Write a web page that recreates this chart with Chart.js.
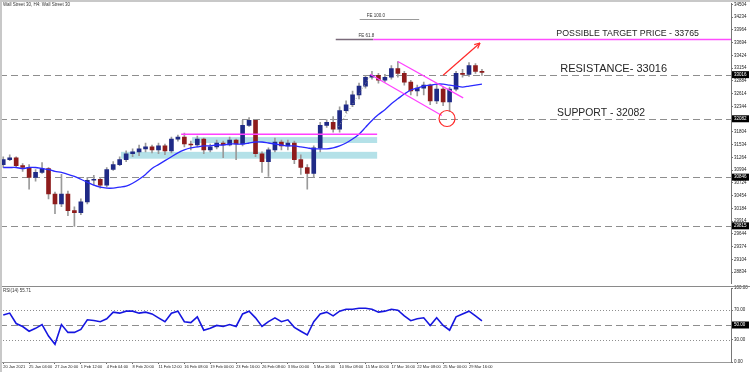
<!DOCTYPE html>
<html><head><meta charset="utf-8">
<script src="https://cdn.jsdelivr.net/npm/chart.js@4"></script>
<style>
html,body{margin:0;padding:0;background:#fff;width:750px;height:372px;overflow:hidden;}
#c1{position:absolute;left:0;top:0;}
#c2{position:absolute;left:0;top:282px;}
#frame{position:absolute;left:0;top:0;width:748px;height:370px;border-left:2px solid #c8c8c8;border-top:2px solid #c8c8c8;pointer-events:none;}
</style></head><body>
<canvas id="c1" width="750" height="287"></canvas>
<canvas id="c2" width="750" height="90"></canvas>
<div id="frame"></div>
<script>
// ---------- data ----------
const chartTitle = 'Wall Street 30, H4: Wall Street 30';
const rsiTitle = 'RSI(14) 55.71';
const xTickLabels = ['20 Jan 2021','25 Jan 04:00','27 Jan 20:00','1 Feb 12:00','4 Feb 04:00','8 Feb 20:00','11 Feb 12:00','16 Feb 08:00','19 Feb 00:00','23 Feb 16:00','26 Feb 08:00','3 Mar 00:00','5 Mar 16:00','10 Mar 08:00','15 Mar 00:00','17 Mar 16:00','22 Mar 08:00','25 Mar 00:00','29 Mar 16:00'];
const candleOpen  = [31112,31216,31257,31091,31050,30842,30946,31029,30489,30281,30489,30136,30094,30323,30780,30801,30676,31008,31112,31216,31341,31382,31444,31486,31424,31507,31403,31652,31694,31548,31527,31652,31424,31486,31569,31527,31631,31548,31943,32047,31341,31174,31424,31590,31507,31569,31216,31050,30925,31465,31943,32005,31860,32254,32379,32587,32774,32961,33002,32898,32961,33147,33044,32857,32670,32732,32794,32462,32711,32441,32711,33044,33023,33210,33085];
const candleHigh  = [31278,31320,31278,31133,31112,31008,31154,31050,30530,30904,30551,30219,30385,30842,30884,30842,31050,31174,31278,31403,31444,31527,31569,31527,31569,31548,31694,31735,31777,31610,31714,31673,31548,31631,31610,31694,31652,32047,32109,32067,31382,31465,31673,31631,31631,31610,31320,31112,31507,32005,32067,32130,32337,32462,32670,32836,33002,33085,33044,33023,33210,33293,33085,32898,32794,32857,32815,32815,32753,32753,33085,33127,33272,33251,33127];
const candleLow   = [31050,31195,31050,30967,30593,30759,30925,30385,30073,30219,30032,29803,30053,30281,30676,30614,30634,30987,31091,31174,31278,31299,31382,31361,31341,31320,31361,31610,31486,31424,31486,31341,31382,31444,31257,31507,31216,31507,31922,31278,30946,30863,31382,31424,31424,31133,30904,30593,30842,31382,31901,31797,31797,32213,32337,32504,32732,32919,32836,32857,32919,32961,32794,32587,32566,32587,32379,32400,32358,32234,32670,32961,32981,33044,33002];
const candleClose = [31216,31257,31091,31050,30842,30946,31029,30489,30281,30489,30136,30094,30323,30780,30801,30676,31008,31112,31216,31341,31382,31444,31486,31424,31507,31403,31652,31694,31548,31527,31652,31424,31486,31569,31527,31631,31548,31943,32047,31341,31174,31424,31590,31507,31569,31216,31050,30925,31465,31943,32005,31860,32254,32379,32587,32774,32961,33002,32898,32961,33147,33044,32857,32670,32732,32794,32462,32711,32441,32711,33044,33023,33210,33085,33064];
const maValues    = [31050,31050,31050,31029,31050,31050,31029,31008,30967,30946,30904,30863,30801,30738,30676,30634,30614,30614,30634,30655,30717,30801,30904,31029,31112,31195,31278,31361,31424,31465,31486,31507,31507,31527,31527,31548,31548,31548,31569,31590,31590,31569,31548,31527,31507,31507,31486,31465,31444,31444,31444,31465,31507,31569,31652,31756,31901,32047,32171,32275,32400,32504,32607,32691,32732,32774,32794,32815,32815,32794,32774,32753,32774,32794,32815];
const rsiValues   = [63.5,66.1,52,48,41.6,45.5,50.6,35,24,50.6,40,40,44,57,56,54.5,58.4,67.4,66,68.7,68.7,66,67.4,65,59.7,54.5,66,68.7,54.5,53.2,61,43,45.5,49.4,48,50.6,48,65,68.7,59.7,48,54.5,59.7,54.5,57,46.8,41.6,36.5,54.5,64.8,67.4,62.3,68.7,71.3,71.3,72.6,72.6,71.3,67.4,68.7,71.3,70,62.3,55.8,58.4,59.7,49.4,59.7,49.4,43,61,64.8,68.7,62.3,55.7];
const priceTicks  = [34504,34234,33964,33694,33424,33154,32884,32614,32344,32074,31804,31534,31264,30994,30724,30454,30184,29914,29644,29374,29104,28834];
const levelPrices = [33016,32082,30846,29815];
const rsiTicks    = [100,70,30,0];
const rsiLevels   = [70,50,30];
const targetPrice = 33765;
const fe100Price  = 34186;
const zoneTopPrice = 31756;
const zones = [ {from:29.2,to:57.8,top:31694,bottom:31569}, {from:18.2,to:57.8,top:31382,bottom:31237} ];
const channelUpper = [[61.0,33293],[71.1,32524]];
const channelLower = [[56.7,33023],[67.8,32150]];
const trendDotted  = [[51.6,31860],[56.7,32981]];
const arrowUp      = [[68.0,33002],[73.7,33687]];
const circleAt     = [68.6,32088];
const textNotes = [
  {text:'POSSIBLE TARGET PRICE - 33765', at:85.5, price:33765},
  {text:'RESISTANCE- 33016', at:86.1, price:33016},
  {text:'SUPPORT - 32082', at:85.6, price:32082}
];
const categoryCount = 113;
const barsPerLabel = 4;

// ---------- helpers ----------
const categories = Array.from({length: categoryCount}, (_, i) => String(i));
const FONT = "'Liberation Sans', Arial, sans-serif";
const RIGHT_W = 19;
const noteFontSizes = [8.8, 11, 10.4];

function seg(ctx, p, q, color, w, dash) {
  ctx.save();
  ctx.strokeStyle = color; ctx.lineWidth = w; ctx.setLineDash(dash || []);
  ctx.beginPath(); ctx.moveTo(p[0], p[1]); ctx.lineTo(q[0], q[1]); ctx.stroke();
  ctx.restore();
}

const pricePlugin = {
  id: 'priceNotes',
  beforeDatasetsDraw(chart) {
    const {ctx, chartArea: a, scales: {x, y}} = chart;
    ctx.save();
    ctx.fillStyle = '#b4e1e8';
    zones.forEach(z => {
      const x0 = x.getPixelForValue(z.from), x1 = x.getPixelForValue(z.to);
      const y0 = y.getPixelForValue(z.top), y1 = y.getPixelForValue(z.bottom);
      ctx.fillRect(x0, y0, x1 - x0, y1 - y0);
    });
    levelPrices.forEach(p => {
      const yy = Math.round(y.getPixelForValue(p)) + 0.5;
      seg(ctx, [a.left, yy], [a.right, yy], '#8e8e8e', 1, [7, 4]);
    });
    ctx.restore();
  },
  afterDatasetsDraw(chart) {
    const {ctx, chartArea: a, scales: {x, y}} = chart;
    const P = (pt) => [x.getPixelForValue(pt[0]), y.getPixelForValue(pt[1])];
    ctx.save();
    const zy = y.getPixelForValue(zoneTopPrice);
    seg(ctx, [x.getPixelForValue(27.5), zy], [x.getPixelForValue(57.8), zy], '#ff40ff', 1.5);
    seg(ctx, P(channelUpper[0]), P(channelUpper[1]), '#ff40ff', 1.2);
    seg(ctx, P(channelLower[0]), P(channelLower[1]), '#ff40ff', 1.2);
    seg(ctx, P(trendDotted[0]), P(trendDotted[1]), '#9a9a9a', 1, [1, 2]);
    const ty = Math.round(y.getPixelForValue(targetPrice)) + 0.5;
    seg(ctx, [x.getPixelForValue(51.4), ty], [x.getPixelForValue(57.2), ty], '#7a6a7a', 1.5);
    seg(ctx, [x.getPixelForValue(57.2), ty], [a.right, ty], '#ff4dff', 1.6);
    const fy = Math.round(y.getPixelForValue(fe100Price)) + 0.5;
    seg(ctx, [x.getPixelForValue(55.1), fy], [x.getPixelForValue(64.3), fy], '#9a9a9a', 1);
    ctx.fillStyle = '#333'; ctx.font = '4.5px ' + FONT; ctx.textBaseline = 'bottom';
    ctx.fillText('FE 61.8', x.getPixelForValue(54.9), ty - 1);
    ctx.fillText('FE 100.0', x.getPixelForValue(56.2), fy - 1);
    const a0 = P(arrowUp[0]), a1 = P(arrowUp[1]);
    seg(ctx, a0, a1, '#ff2a2a', 1.2);
    const ang = Math.atan2(a1[1] - a0[1], a1[0] - a0[0]);
    [0.45, -0.45].forEach(d => {
      seg(ctx, a1, [a1[0] - 6 * Math.cos(ang + d), a1[1] - 6 * Math.sin(ang + d)], '#ff2a2a', 1.2);
    });
    const c = P(circleAt);
    ctx.strokeStyle = '#ff2a2a'; ctx.lineWidth = 1.2; ctx.setLineDash([]);
    ctx.beginPath(); ctx.arc(c[0], c[1], 8, 0, Math.PI * 2); ctx.stroke();
    ctx.fillStyle = '#262626'; ctx.textBaseline = 'alphabetic';
    textNotes.forEach((n, k) => {
      ctx.font = noteFontSizes[k] + 'px ' + FONT;
      ctx.fillText(n.text, x.getPixelForValue(n.at), y.getPixelForValue(n.price) - 3);
    });
    ctx.restore();
  },
  afterDraw(chart) {
    const {ctx, chartArea: a, scales: {y}} = chart;
    ctx.save();
    ctx.font = '4.5px ' + FONT; ctx.textBaseline = 'middle';
    levelPrices.forEach(p => {
      const yy = y.getPixelForValue(p);
      ctx.fillStyle = '#000'; ctx.fillRect(a.right + 1, yy - 3.5, 17, 7);
      ctx.fillStyle = '#fff'; ctx.fillText(String(p), a.right + 3, yy);
    });
    ctx.fillStyle = '#333'; ctx.textBaseline = 'top';
    ctx.fillText(chartTitle, 3, 3);
    ctx.restore();
  }
};

const rsiPlugin = {
  id: 'rsiNotes',
  beforeDatasetsDraw(chart) {
    const {ctx, chartArea: a, scales: {y}} = chart;
    ctx.save();
    seg(ctx, [0, a.top - 1.5], [chart.width, a.top - 1.5], '#8a8a8a', 1);
    rsiLevels.forEach(v => {
      const yy = Math.round(y.getPixelForValue(v)) + 0.5;
      seg(ctx, [a.left, yy], [a.right, yy], '#8e8e8e', 1, v === 50 ? [7, 4] : [1, 2]);
    });
    ctx.restore();
  },
  afterDraw(chart) {
    const {ctx, chartArea: a, scales: {y}} = chart;
    ctx.save();
    ctx.font = '4.5px ' + FONT; ctx.textBaseline = 'middle';
    const yy = y.getPixelForValue(50);
    ctx.fillStyle = '#000'; ctx.fillRect(a.right + 1, yy - 3.5, 17, 7);
    ctx.fillStyle = '#fff'; ctx.fillText('50.00', a.right + 3, yy);
    ctx.fillStyle = '#333'; ctx.textBaseline = 'top';
    ctx.fillText(rsiTitle, 3, a.top + 1);
    ctx.restore();
  }
};

const bodyColors = candleOpen.map((o, i) => candleClose[i] >= o ? '#1f2a86' : '#8e1c1c');

new Chart(document.getElementById('c1'), {
  type: 'bar',
  data: {
    labels: categories,
    datasets: [
      { type: 'line', data: maValues, borderColor: '#2a2aff', borderWidth: 1.3, pointRadius: 0, tension: 0.3 },
      { data: candleOpen.map((o, i) => [o, candleClose[i]]), backgroundColor: bodyColors, barThickness: 4, minBarLength: 1, grouped: false },
      { data: candleLow.map((l, i) => [l, candleHigh[i]]), backgroundColor: '#9a9a9a', barThickness: 1, grouped: false }
    ]
  },
  options: {
    responsive: false, animation: false, devicePixelRatio: 1,
    layout: { padding: { left: 0, right: 0, top: 1, bottom: 1 } },
    plugins: { legend: { display: false }, tooltip: { enabled: false } },
    scales: {
      x: { display: false, offset: true },
      y: {
        position: 'right', min: 28599, max: 34518,
        afterBuildTicks: s => { s.ticks = priceTicks.map(v => ({ value: v })); },
        afterFit: s => { s.width = RIGHT_W; },
        ticks: { autoSkip: false, font: { size: 4.5, family: FONT }, color: '#222', padding: 1, callback: v => String(v) },
        grid: { drawOnChartArea: false, tickLength: 2, color: '#777' },
        border: { display: true, color: '#777' }
      }
    }
  },
  plugins: [pricePlugin]
});

new Chart(document.getElementById('c2'), {
  type: 'line',
  data: {
    labels: categories,
    datasets: [ { data: rsiValues, borderColor: '#1616e0', borderWidth: 1.6, pointRadius: 0, tension: 0 } ]
  },
  options: {
    responsive: false, animation: false, devicePixelRatio: 1,
    layout: { padding: { left: 0, right: 0, top: 6, bottom: 0 } },
    plugins: { legend: { display: false }, tooltip: { enabled: false } },
    scales: {
      x: {
        offset: true,
        afterFit: s => { s.height = 10; },
        ticks: {
          autoSkip: false, maxRotation: 0, minRotation: 0, align: 'start', padding: 0,
          font: { size: 4, family: FONT }, color: '#222',
          callback: (v, i) => (i % barsPerLabel === 0 && i / barsPerLabel < xTickLabels.length) ? xTickLabels[i / barsPerLabel] : ''
        },
        grid: {
          offset: false, drawOnChartArea: false, tickLength: 2,
          color: c => (c.index % barsPerLabel === 0 && c.index / barsPerLabel < xTickLabels.length) ? '#666' : 'rgba(0,0,0,0)'
        },
        border: { display: true, color: '#999' }
      },
      y: {
        position: 'right', min: 0, max: 100,
        afterBuildTicks: s => { s.ticks = rsiTicks.map(v => ({ value: v })); },
        afterFit: s => { s.width = RIGHT_W; },
        ticks: { autoSkip: false, font: { size: 4.5, family: FONT }, color: '#222', padding: 1, callback: v => Number(v).toFixed(2) },
        grid: { drawOnChartArea: false, tickLength: 2, color: '#777' },
        border: { display: true, color: '#777' }
      }
    }
  },
  plugins: [rsiPlugin]
});
</script>
</body></html>
